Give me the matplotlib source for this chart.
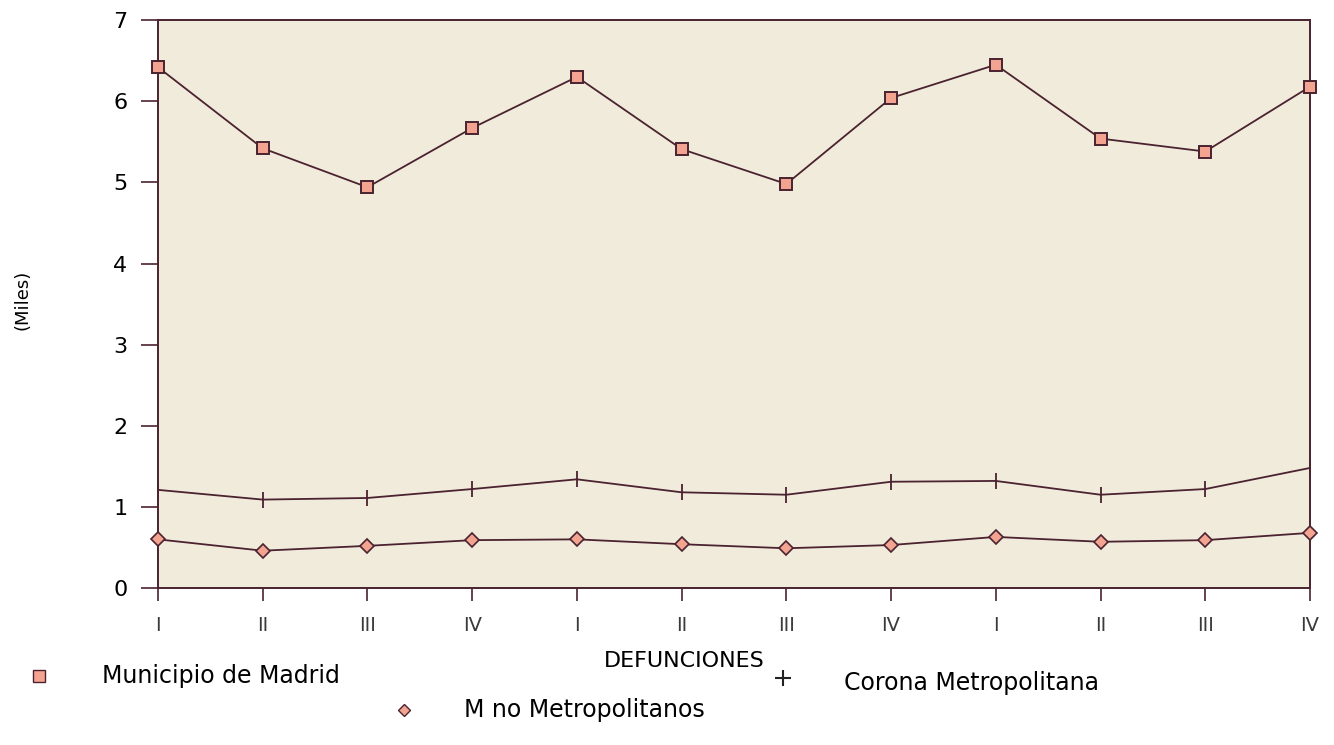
import matplotlib.pyplot as plt
from matplotlib.lines import Line2D
import numpy as np

# Quarterly deaths (thousands), three consecutive years
quarters = ['I', 'II', 'III', 'IV'] * 3
madrid = [6.42, 5.42, 4.94, 5.67, 6.30, 5.41, 4.98, 6.04, 6.45, 5.54, 5.38, 6.18]
corona = [1.21, 1.09, 1.11, 1.22, 1.34, 1.18, 1.15, 1.31, 1.32, 1.15, 1.22, 1.48]
no_metro = [0.60, 0.46, 0.52, 0.59, 0.60, 0.54, 0.49, 0.53, 0.63, 0.57, 0.59, 0.68]

line_col = '#4a2230'
fill_col = '#f2a491'
bg_col = '#f1ebdb'

plt.rcParams['font.family'] = ['DejaVu Sans']

fig = plt.figure(figsize=(13.34, 7.45), dpi=100)
ax = fig.add_axes([0.1184, 0.2107, 0.8636, 0.7623])
ax.set_facecolor(bg_col)

x = np.arange(len(quarters))
ax.plot(x, madrid, color=line_col, lw=1.3, marker='s', ms=9,
        mfc=fill_col, mec=line_col, mew=1.4, clip_on=False, zorder=3)
ax.plot(x, corona, color=line_col, lw=1.3, marker='|', ms=11,
        mew=1.3, clip_on=False, zorder=3)
ax.plot(x, no_metro, color=line_col, lw=1.3, marker='D', ms=7,
        mfc=fill_col, mec=line_col, mew=1.2, clip_on=False, zorder=3)

ax.set_xlim(0, len(quarters) - 1)
ax.set_ylim(0, 7)
ax.set_xticks(x)
ax.set_xticklabels(quarters, fontsize=14, color='#3a3a3a')
ax.set_yticks(range(0, 8))
ax.tick_params(axis='y', length=12, width=1.2, color=line_col, labelsize=16,
               pad=10)
ax.tick_params(axis='x', length=9, width=1.2, color=line_col, pad=11)
for s in ax.spines.values():
    s.set_color(line_col)
    s.set_linewidth(1.4)

fig.text(0.017, 0.597, '(Miles)', rotation=90, fontsize=13, va='center',
         ha='center')
fig.text(0.513, 0.113, 'DEFUNCIONES', fontsize=16, ha='center', va='center')


# legend laid out like the original chart
def legend_mark(xf, yf, **kw):
    fig.add_artist(Line2D([xf], [yf], transform=fig.transFigure,
                          linestyle='none', **kw))


legend_mark(0.0292, 0.093, marker='s', ms=8, mfc=fill_col, mec=line_col,
            mew=1.0)
fig.text(0.0765, 0.093, 'Municipio de Madrid', fontsize=17, ha='left',
         va='center')
legend_mark(0.587, 0.09, marker='+', ms=12, mec='#222222', mew=1.5)
fig.text(0.633, 0.083, 'Corona Metropolitana', fontsize=17, ha='left',
         va='center')
legend_mark(0.303, 0.047, marker='D', ms=6, mfc=fill_col, mec=line_col,
            mew=1.0)
fig.text(0.348, 0.047, 'M no Metropolitanos', fontsize=17, ha='left',
         va='center')

fig.savefig('out.png', dpi=100)
